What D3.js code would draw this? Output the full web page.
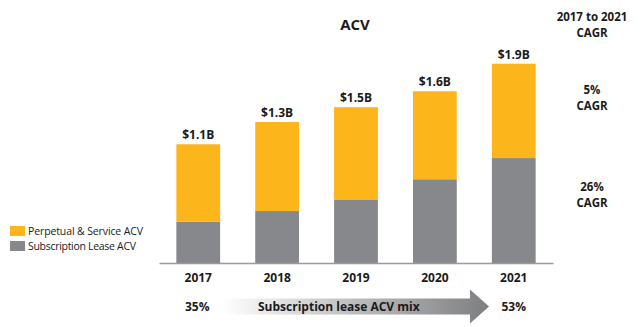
<!DOCTYPE html>
<html>
<head>
<meta charset="utf-8">
<script src="https://cdn.jsdelivr.net/npm/d3@7"></script>
<style>
  body { margin: 0; background: #fff; }
  text { font-family: "Open Sans", "DejaVu Sans", sans-serif; fill: #1a1a1a; }
</style>
</head>
<body>
<svg id="chart" width="640" height="327"></svg>
<script>
var years = ["2017", "2018", "2019", "2020", "2021"];
var subscription = [0.39, 0.49, 0.60, 0.79, 0.99];
var perpetual = [0.73, 0.84, 0.87, 0.83, 0.89];
var totalLabels = ["$1.1B", "$1.3B", "$1.5B", "$1.6B", "$1.9B"];
var seriesNames = ["Perpetual & Service ACV", "Subscription Lease ACV"];
var cagrLabels = ["5%", "26%"];
var mixLabels = ["35%", "53%"];

var orange = "#fdb51c";
var grey = "#87888b";

var svg = d3.select("#chart");

var x = d3.scaleBand()
  .domain(years)
  .range([159, 553])
  .paddingInner(0.445)
  .paddingOuter(0.22);

var y = d3.scaleLinear()
  .domain([0, 2])
  .range([263, 51]);

var rows = years.map(function(yr, i) {
  return { year: yr, sub: subscription[i], perp: perpetual[i], label: totalLabels[i] };
});

var stack = d3.stack().keys(["sub", "perp"])(rows);
var colors = { sub: grey, perp: orange };

svg.selectAll("g.layer")
  .data(stack)
  .enter()
  .append("g")
  .attr("class", "layer")
  .attr("fill", function(d) { return colors[d.key]; })
  .selectAll("rect")
  .data(function(d) { return d; })
  .enter()
  .append("rect")
  .attr("x", function(d) { return x(d.data.year); })
  .attr("y", function(d) { return y(d[1]); })
  .attr("width", x.bandwidth())
  .attr("height", function(d) { return y(d[0]) - y(d[1]); });

// totals above bars
svg.selectAll("text.total")
  .data(rows)
  .enter()
  .append("text")
  .attr("class", "total")
  .attr("x", function(d) { return x(d.year) + x.bandwidth() / 2; })
  .attr("y", function(d) { return y(d.sub + d.perp) - 5; })
  .attr("text-anchor", "middle")
  .style("font-size", "12px")
  .style("font-weight", "bold")
  .text(function(d) { return d.label; });

// x axis
var xAxis = svg.append("g")
  .attr("transform", "translate(0," + y(0) + ")")
  .call(d3.axisBottom(x).tickSize(0).tickPadding(10));
xAxis.select(".domain").attr("stroke", "#9a9a9a").attr("stroke-width", 1.5);
xAxis.selectAll(".tick text")
  .style("font-family", "'Open Sans', sans-serif")
  .style("font-size", "12px")
  .style("font-weight", "bold")
  .attr("fill", "#1a1a1a");

// title
svg.append("text")
  .attr("x", 355).attr("y", 30)
  .attr("text-anchor", "middle")
  .style("font-size", "15px")
  .style("font-weight", "bold")
  .text("ACV");

// legend
var legend = svg.append("g").attr("transform", "translate(10,226)");
[orange, grey].forEach(function(c, i) {
  legend.append("rect")
    .attr("x", 0).attr("y", i * 15)
    .attr("width", 15).attr("height", 10)
    .attr("fill", c);
  legend.append("text")
    .attr("x", 18).attr("y", i * 15 + 9)
    .style("font-size", "10.5px")
    .attr("textLength", i === 0 ? 115 : 108)
    .text(seriesNames[i]);
});

// CAGR column
var right = svg.append("g").style("font-size", "11.5px").style("font-weight", "bold")
  .attr("text-anchor", "middle");
right.append("text").attr("x", 592).attr("y", 21).text("2017 to 2021");
right.append("text").attr("x", 592).attr("y", 37).text("CAGR");
var cagrY = [94, 191];
cagrLabels.forEach(function(lbl, i) {
  right.append("text").attr("x", 592).attr("y", cagrY[i]).text(lbl);
  right.append("text").attr("x", 592).attr("y", cagrY[i] + 16).text("CAGR");
});

// mix arrow
var defs = svg.append("defs");
var grad = defs.append("linearGradient").attr("id", "arrowGrad")
  .attr("x1", "0%").attr("x2", "100%");
grad.append("stop").attr("offset", "0%").attr("stop-color", "#ffffff");
grad.append("stop").attr("offset", "40%").attr("stop-color", "#c9c9ca");
grad.append("stop").attr("offset", "100%").attr("stop-color", "#7d7e80");

var ax0 = 222, ax1 = 470, tip = 489, cy = 306.5;
svg.append("path")
  .attr("d", "M" + ax0 + "," + (cy - 8) + "L" + ax1 + "," + (cy - 8) +
    "L" + ax1 + "," + (cy - 17) + "L" + tip + "," + cy +
    "L" + ax1 + "," + (cy + 17) + "L" + ax1 + "," + (cy + 8) +
    "L" + ax0 + "," + (cy + 8) + "Z")
  .attr("fill", "url(#arrowGrad)");

svg.append("text")
  .attr("x", 258).attr("y", cy + 4.5)
  .style("font-size", "12px").style("font-weight", "bold")
  .text("Subscription lease ACV mix");

svg.append("text")
  .attr("x", x(years[0]) + x.bandwidth() / 2 - 1).attr("y", cy + 4.5)
  .attr("text-anchor", "middle")
  .style("font-size", "12px").style("font-weight", "bold")
  .text(mixLabels[0]);
svg.append("text")
  .attr("x", x(years[4]) + x.bandwidth() / 2).attr("y", cy + 4.5)
  .attr("text-anchor", "middle")
  .style("font-size", "12px").style("font-weight", "bold")
  .text(mixLabels[1]);
</script>
</body>
</html>
